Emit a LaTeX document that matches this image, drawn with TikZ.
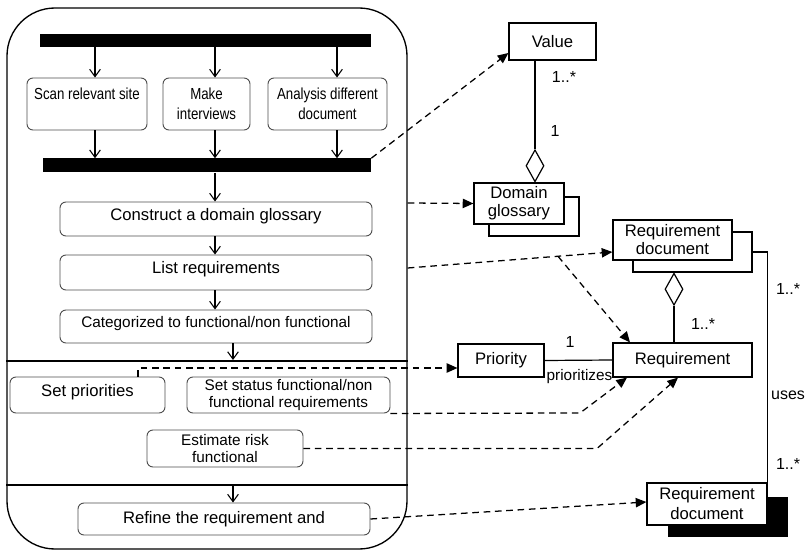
\documentclass[tikz,border=0pt]{standalone}
\usepackage{fontspec}
\setmainfont{Liberation Sans}
\newfontfamily\condfont[FakeStretch=0.83]{Liberation Sans}
\usetikzlibrary{arrows.meta,shapes.geometric}

\begin{document}
\begin{tikzpicture}[x=0.75pt,y=-0.75pt,
  every node/.style={inner sep=0pt, font=\fontsize{12.5}{15}\selectfont},
  sz/.style 2 args={minimum width=#1*0.75pt, minimum height=#2*0.75pt},
  small/.style={font=\fontsize{11.5}{13}\selectfont},
  cond/.style={font=\condfont\fontsize{12}{15}\selectfont},
  raised/.style={text depth=7.5pt},
  lane/.style={draw, line width=1pt, rounded corners=36pt},
  bar/.style={fill=black, draw=none},
  act/.style={draw=black!70, line width=0.7pt, rounded corners=4.5pt, align=center},
  cls/.style={draw, line width=0.9pt, fill=white, align=center, font=\fontsize{12.5}{13.5}\selectfont},
  agg/.style={diamond, draw, fill=white, line width=0.9pt, sz={18}{32}},
  flow/.style={line width=0.8pt, -{Straight Barb[length=5.5pt,width=8pt]}},
  dep/.style={line width=0.95pt, dash pattern=on 5pt off 3.5pt,
              -{Triangle[length=8pt,width=7pt]}},
  link/.style={line width=0.9pt},
  mult/.style={font=\fontsize{12}{14}\selectfont}
]
\useasboundingbox (0,0) rectangle (807,552);

% ---------- activity swimlane ----------
\node[lane, sz={400}{541}] (lane) at (207,278.5) {};
\draw[link] (lane.west |- 0,361) -- (lane.east |- 0,361);
\draw[link] (lane.west |- 0,485) -- (lane.east |- 0,485);

% fork / join bars
\node[bar, sz={331}{13}] (bar1) at (205.5,40.5) {};
\node[bar, sz={328}{14}] (bar2) at (207,165.5) {};

% parallel activities
\node[act, cond, sz={120}{52}] (scan) at (87,104) {Scan relevant site\\\mbox{}};
\node[act, cond, sz={87}{52}] (make) at (206.5,104) {Make\\interviews};
\node[act, cond, sz={119}{52}] (anal) at (327.5,104) {Analysis different\\document};

% sequential activities
\node[act, raised, sz={312}{34}] (glos) at (216,219) {Construct a domain glossary};
\node[act, raised, sz={312}{35}] (list) at (216,272.5) {List requirements};
\node[act, raised, small, sz={312}{33}] (cat) at (216,326.5) {Categorized to functional/non functional};

\node[act, raised, sz={155}{36}] (prio) at (87.5,395) {Set priorities};
\node[act, small, sz={203}{36}] (stat) at (288.5,395) {Set status functional/non\\functional requirements};
\node[act, small, sz={156}{37}] (risk) at (225,448.5) {Estimate risk\\functional};
\node[act, sz={292}{32}] (refine) at (224,519) {Refine the requirement and};

% control flow
\foreach \n/\x in {scan/95, make/215, anal/337}{
  \draw[flow] (bar1.south -| \x,0) -- (\n.north -| \x,0);
  \draw[flow] (\n.south -| \x,0) -- (bar2.north -| \x,0);
}
\draw[flow] (bar2.south -| 215,0) -- (glos.north -| 215,0);
\draw[flow] (glos.south -| 215,0) -- (list.north -| 215,0);
\draw[flow] (list.south -| 215,0) -- (cat.north -| 215,0);
\coordinate (p1) at (233,360);
\coordinate (p2) at (233,486);
\draw[flow] (cat.south -| p1) -- (p1);
\draw[flow] (p2) -- (refine.north -| p2);

% ---------- class model ----------
\node[cls, sz={87}{37}] (value) at (552.5,41.5) {Value};

\node[cls, sz={90}{39}] (dgb) at (534,216.5) {};
\node[cls, sz={90}{41}] (dg) at (519,203.5) {Domain\\glossary};

\node[cls, sz={119}{40}] (rd1b) at (692.5,252) {};
\node[cls, sz={119}{40}] (rd1) at (672.5,240) {Requirement\\document};

\node[cls, sz={139}{34}] (req) at (682.5,360) {Requirement};
\node[cls, sz={86}{33}] (pr) at (501,360.5) {Priority};

\node[fill=black, sz={120}{40}] (rd2s) at (728,517) {};
\node[cls, sz={120}{42}, font=\fontsize{12.5}{15}\selectfont] (rd2) at (707,504) {Requirement\\document};

% aggregations and associations
\node[agg, anchor=south] (dia1) at (dg.north -| 535,0) {};
\draw[link] (value.south -| dia1.north) -- (dia1.north);
\node[agg, anchor=north] (dia2) at (rd1b.south -| 674,0) {};
\draw[link] (dia2.south) -- (req.north -| dia2.south);
\draw[link] (pr.east) -- (req.west);
\draw[link] (rd1b.east) -| (rd2.north east);

\node[mult] (m1) at (564,77) {1..*};
\node[mult] (m2) at (555,131) {1};
\node[mult] (m3) at (703,324) {1..*};
\node[mult] (m4) at (570,342) {1};
\node[small] (m5) at (579.5,377) {prioritizes};
\node[mult] (m6) at (788,289) {1..*};
\node[mult] (m7) at (788,395) {uses};
\node[mult] (m8) at (788,464) {1..*};

% ---------- dependencies ----------
\coordinate (fork) at (558,256.3);
\coordinate (k1) at (580,413);
\coordinate (k2) at (597,448.5);
\draw[dep] (bar2.north east) -- (value.west |- 0,53);
\draw[dep] (lane.east |- 0,203) -- (dg.west);
\draw[dep] (lane.east |- 0,268) -- (rd1.west |- 0,252);
\draw[dep] (fork) -- (req.north -| 630,0);
\draw[dep] (prio.north -| 138,0) |- (pr.west |- 0,368);
\draw[dep] (stat.south east) -- (k1) -- (req.south -| 627,0);
\draw[dep] (risk.east) -- (k2) -- (req.south -| 678,0);
\draw[dep] (refine.east) -- (rd2.west |- 0,502);
\end{tikzpicture}
\end{document}
